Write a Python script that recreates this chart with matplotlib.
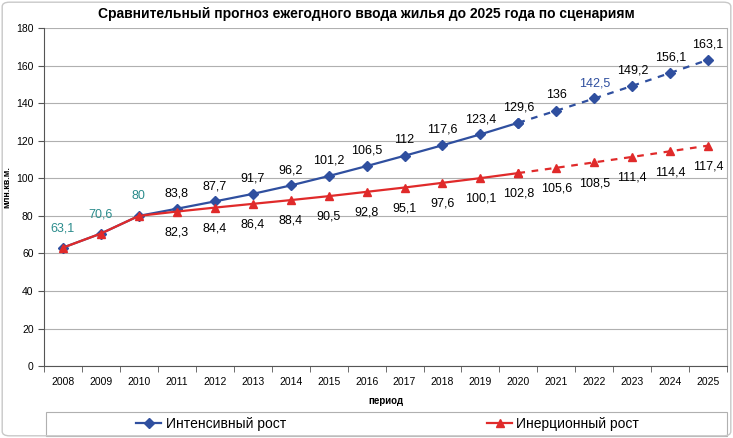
import matplotlib.pyplot as plt
from matplotlib.patches import FancyBboxPatch, Rectangle

plt.rcParams['font.family'] = ['Liberation Sans', 'DejaVu Sans']

years = [str(y) for y in range(2008, 2026)]
intensive = [63.1, 70.6, 80, 83.8, 87.7, 91.7, 96.2, 101.2, 106.5, 112, 117.6,
             123.4, 129.6, 136, 142.5, 149.2, 156.1, 163.1]
inertial = [63.1, 70.6, 80, 82.3, 84.4, 86.4, 88.4, 90.5, 92.8, 95.1, 97.6,
            100.1, 102.8, 105.6, 108.5, 111.4, 114.4, 117.4]
split = 12  # index of 2020, forecast dashed after it

blue = '#2F4F9F'
red = '#E02A2A'
teal = '#2B8C8C'

fig = plt.figure(figsize=(7.33, 4.38), dpi=100)
ax = fig.add_axes([0.060, 0.164, 0.932, 0.772])

x = list(range(len(years)))

#solid part then dashed forecast
ax.plot(x[:split + 1], intensive[:split + 1], color=blue, lw=1.6, marker='D', ms=5, zorder=3)
ax.plot(x[split:], intensive[split:], color=blue, lw=1.6, ls=(0, (3, 3)), marker='D', ms=5, zorder=3)
ax.plot(x[:split + 1], inertial[:split + 1], color=red, lw=1.6, marker='^', ms=6, zorder=4)
ax.plot(x[split:], inertial[split:], color=red, lw=1.6, ls=(0, (3, 3)), marker='^', ms=6, zorder=4)

def fmt(v):
    return ('%g' % v).replace('.', ',')

for i in range(len(x)):
    if i < 3:
        ax.annotate(fmt(intensive[i]), (x[i], intensive[i]), xytext=(0, 14), textcoords='offset points',
                    ha='center', va='center', fontsize=9, color=teal)
        continue
    c = blue if i == 14 else 'black'
    ax.annotate(fmt(intensive[i]), (x[i], intensive[i]), xytext=(0, 11), textcoords='offset points',
                ha='center', va='center', fontsize=9, color=c)
    ax.annotate(fmt(inertial[i]), (x[i], inertial[i]), xytext=(0, -15), textcoords='offset points',
                ha='center', va='center', fontsize=9, color='black')

ax.set_xlim(-0.5, len(years) - 0.5)
ax.set_ylim(0, 180)
ax.set_yticks(range(0, 181, 20))
ax.set_xticks(x)
ax.set_xticklabels(years)
ax.set_xticks([i - 0.5 for i in range(len(years) + 1)], minor=True)
ax.tick_params(axis='x', which='major', length=0, labelsize=7.5, pad=8)
ax.tick_params(axis='x', which='minor', length=4, color='#555555')
ax.tick_params(axis='y', length=4, labelsize=7.5, color='#555555')
ax.grid(axis='y', color='#b0b0b0', lw=0.8)
ax.set_axisbelow(True)
ax.spines['top'].set_visible(False)
ax.spines['left'].set_color('#555555')
ax.spines['bottom'].set_color('#555555')
ax.spines['right'].set_color('#b0b0b0')

ax.set_xlabel('период', fontsize=7, fontweight='bold', labelpad=6)
ax.set_ylabel('млн.кв.м.', fontsize=6.5, fontweight='bold', labelpad=6)
ax.yaxis.set_label_coords(-0.048, 0.53)

fig.suptitle('Сравнительный прогноз ежегодного ввода жилья до 2025 года по сценариям',
             x=0.5, y=0.985, fontsize=10, fontweight='bold')

#legend box drawn separately, entries spread apart like the original
fig.patches.append(Rectangle((0.063, 0.004), 0.929, 0.055, transform=fig.transFigure,
                             fill=False, edgecolor='#b0b0b0', lw=0.8))
h1, = ax.plot([], [], color=blue, lw=1.6, marker='D', ms=5)
h2, = ax.plot([], [], color=red, lw=1.6, marker='^', ms=6)
leg = fig.legend([h1, h2], ['Интенсивный рост', 'Инерционный рост'], ncol=2,
                 loc='center', bbox_to_anchor=(0.529, 0.032), fontsize=10, frameon=False,
                 handlelength=1.8, handletextpad=0.3, columnspacing=14.5)

fig.patches.append(FancyBboxPatch((0.003, 0.005), 0.994, 0.99, boxstyle='round,pad=0,rounding_size=0.01',
                                  transform=fig.transFigure, fill=False, edgecolor='#c8c8c8', lw=1))

fig.savefig('out.png', dpi=100)
